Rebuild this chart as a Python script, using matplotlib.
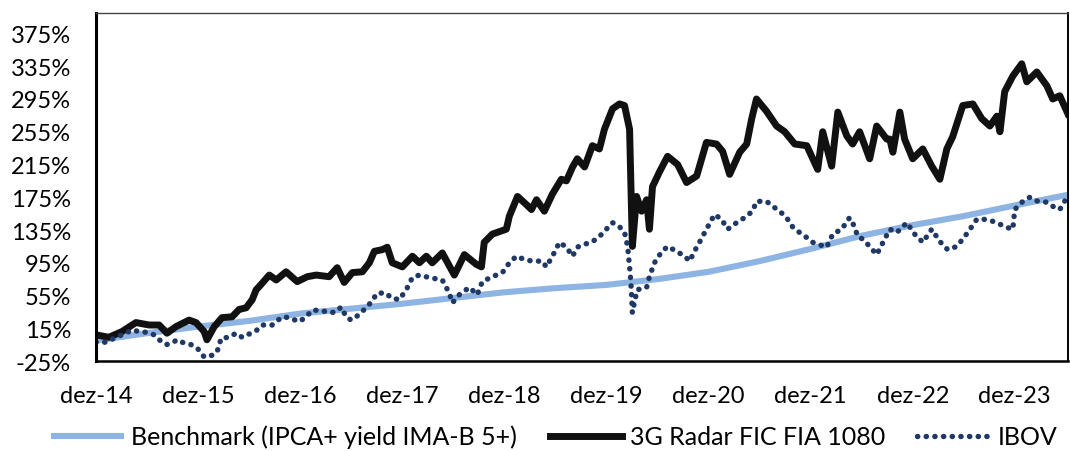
import pandas as pd
import matplotlib
matplotlib.use('Agg')
import matplotlib.pyplot as plt

plt.rcParams['font.family'] = ['Lato', 'DejaVu Sans']

# Benchmark (IPCA+ yield IMA-B 5+)
bench_dates = ['2014-12-01', '2015-06-01', '2015-12-01', '2016-06-01', '2016-12-01',
               '2017-06-01', '2017-12-01', '2018-06-01', '2018-12-01', '2019-06-01',
               '2019-12-01', '2020-06-01', '2020-12-01', '2021-06-01', '2021-12-01',
               '2022-06-01', '2022-12-01', '2023-06-01', '2023-12-01', '2024-06-08']
bench_vals = [0, 9, 17, 24, 33, 39, 45, 52, 59, 64,
              68, 75, 84, 97, 112, 128, 141, 152, 165, 178]

# 3G Radar FIC FIA 1080
fund_dates = ['2014-12-01', '2015-01-16', '2015-03-04', '2015-04-23', '2015-06-09',
              '2015-07-15', '2015-08-12', '2015-09-13', '2015-10-30', '2015-11-24',
              '2015-12-23', '2016-01-02', '2016-01-28', '2016-02-25', '2016-04-01',
              '2016-04-26', '2016-05-21', '2016-06-12', '2016-06-26', '2016-07-07',
              '2016-08-12', '2016-09-06', '2016-10-11', '2016-11-20', '2016-12-26',
              '2017-01-27', '2017-03-14', '2017-04-12', '2017-05-07', '2017-06-05',
              '2017-07-11', '2017-08-05', '2017-08-23', '2017-09-20', '2017-10-08',
              '2017-10-26', '2017-12-01', '2018-01-06', '2018-01-31', '2018-02-25',
              '2018-03-18', '2018-04-23', '2018-06-05', '2018-07-11', '2018-08-23',
              '2018-09-10', '2018-09-20', '2018-10-19', '2018-12-08', '2018-12-19',
              '2019-01-17', '2019-02-18', '2019-03-08', '2019-03-26', '2019-04-23',
              '2019-05-22', '2019-06-23', '2019-07-11', '2019-08-02', '2019-08-19',
              '2019-09-14', '2019-10-12', '2019-11-06', '2019-11-24', '2019-12-23',
              '2020-01-17', '2020-02-04', '2020-02-22', '2020-02-29', '2020-03-03',
              '2020-03-18', '2020-04-05', '2020-04-23', '2020-05-03', '2020-05-14',
              '2020-06-08', '2020-07-07', '2020-08-12', '2020-09-13', '2020-10-19',
              '2020-11-23', '2020-12-29', '2021-01-20', '2021-02-14', '2021-03-22',
              '2021-04-16', '2021-05-04', '2021-05-21', '2021-06-26', '2021-08-01',
              '2021-08-30', '2021-10-05', '2021-11-17', '2021-12-26', '2022-01-13',
              '2022-02-14', '2022-03-08', '2022-04-09', '2022-04-30', '2022-05-25',
              '2022-06-30', '2022-07-25', '2022-08-30', '2022-09-10', '2022-09-21',
              '2022-10-16', '2022-11-02', '2022-12-01', '2023-01-06', '2023-02-07',
              '2023-03-08', '2023-04-02', '2023-04-23', '2023-05-29', '2023-07-04',
              '2023-08-05', '2023-09-03', '2023-09-28', '2023-10-09', '2023-10-26',
              '2023-11-24', '2023-12-26', '2024-01-13', '2024-02-18', '2024-03-25',
              '2024-04-15', '2024-05-10', '2024-06-08']
fund_vals = [7, 4, 11, 22, 19, 19, 9, 17, 25, 22,
             11, 1, 17, 28, 29, 38, 40, 50, 62, 66,
             80, 74, 84, 72, 78, 80, 78, 89, 71, 83,
             84, 95, 109, 111, 114, 95, 90, 103, 95, 103,
             95, 107, 80, 105, 93, 90, 120, 130, 136, 152,
             176, 166, 160, 172, 158, 179, 197, 195, 212, 222,
             212, 238, 234, 258, 283, 289, 287, 258, 157, 115,
             176, 158, 172, 136, 188, 206, 225, 215, 193, 201,
             242, 240, 231, 203, 230, 240, 271, 295, 280, 262,
             255, 240, 238, 209, 255, 213, 279, 250, 240, 255,
             222, 262, 246, 246, 230,
             279, 246, 222, 234, 213,
             197, 234, 249, 287, 289, 271, 262, 274, 255, 304,
             323, 338, 316, 328, 311, 295, 299, 277]

# IBOV
ibov_dates = ['2014-12-01', '2015-01-06', '2015-02-11', '2015-03-18', '2015-04-09',
              '2015-05-04', '2015-06-02', '2015-06-27', '2015-07-15', '2015-08-09',
              '2015-08-30', '2015-09-17', '2015-10-12', '2015-11-06', '2015-11-28',
              '2015-12-23', '2016-01-20', '2016-02-07', '2016-02-22', '2016-03-21',
              '2016-04-15', '2016-05-07', '2016-06-01', '2016-06-26', '2016-07-17',
              '2016-08-22', '2016-09-27', '2016-10-22', '2016-11-27', '2016-12-22',
              '2017-01-12', '2017-02-14', '2017-03-14', '2017-04-08', '2017-04-26',
              '2017-05-14', '2017-06-01', '2017-06-19', '2017-07-18', '2017-08-12',
              '2017-09-02', '2017-10-04', '2017-10-22', '2017-11-20', '2017-12-15',
              '2018-01-06', '2018-01-31', '2018-03-07', '2018-04-23', '2018-05-18',
              '2018-05-29', '2018-06-23', '2018-07-29', '2018-08-26', '2018-09-13',
              '2018-10-19', '2018-11-24', '2018-12-19', '2019-01-13', '2019-02-11',
              '2019-03-11', '2019-04-16', '2019-04-30', '2019-05-22', '2019-06-16',
              '2019-07-11', '2019-08-02', '2019-08-19', '2019-09-06', '2019-10-09',
              '2019-11-06', '2019-12-01', '2019-12-23', '2020-01-17', '2020-02-04',
              '2020-02-15', '2020-02-22', '2020-02-26', '2020-02-29', '2020-03-03',
              '2020-03-10', '2020-03-20', '2020-04-23', '2020-05-03', '2020-05-21',
              '2020-06-15', '2020-07-07', '2020-08-08', '2020-09-06', '2020-09-24',
              '2020-10-11', '2020-10-29', '2020-11-23', '2020-12-22', '2021-01-16',
              '2021-02-07', '2021-03-11', '2021-04-08', '2021-05-07', '2021-05-21',
              '2021-06-26', '2021-07-18', '2021-08-12', '2021-09-06', '2021-09-27',
              '2021-10-22', '2021-11-16', '2021-12-08', '2022-01-02', '2022-01-27',
              '2022-02-18', '2022-03-22', '2022-04-19', '2022-05-07', '2022-05-18',
              '2022-06-05', '2022-06-30', '2022-07-25', '2022-08-23', '2022-09-10',
              '2022-10-05', '2022-11-10', '2022-12-08', '2023-01-06', '2023-02-07',
              '2023-03-08', '2023-04-05', '2023-05-08', '2023-06-05', '2023-06-30',
              '2023-07-18', '2023-08-23', '2023-09-28', '2023-10-26', '2023-11-24',
              '2023-12-01', '2023-12-30', '2024-01-24', '2024-02-22', '2024-03-25',
              '2024-04-15', '2024-05-10', '2024-06-05']
ibov_vals = [-2, -2, 4, 9, 13, 11, 10, 7, 1, -5,
             -3, 1, -3, -5, -9, -20, -18, -14, 3, 4,
             9, 4, 8, 12, 19, 19, 29, 28, 23, 29,
             37, 37, 34, 35, 41, 29, 25, 29, 38, 47,
             58, 58, 52, 50, 62, 77, 80, 77, 74, 58,
             46, 56, 65, 56, 72, 78, 83, 95, 103, 99,
             97, 97, 90, 103, 120, 114, 103, 114, 117, 120,
             127, 136, 144, 139, 132, 115, 90, 74, 58, 34,
             46, 62, 65, 78, 95, 108, 115, 109, 103, 97,
             109, 120, 136, 154, 148, 136, 144, 150, 158, 170,
             170, 164, 158, 150, 139, 132, 126, 120, 117, 114,
             130, 136, 150, 139, 127, 124, 115, 105, 124, 136,
             132, 144, 130, 120, 136, 121, 111, 115, 127, 139,
             148, 148, 144, 139, 136, 160, 170, 175, 170, 169,
             164, 160, 175]

tick_years = list(range(2014, 2024))
y_ticks = list(range(-25, 376, 40))

fig = plt.figure(figsize=(10.7, 4.52), dpi=100)
ax = fig.add_axes([0.0897, 0.199, 0.9083, 0.770])

ax.plot(pd.to_datetime(bench_dates), bench_vals, color='#8DB4E2', lw=4.4,
        solid_capstyle='butt', label='Benchmark (IPCA+ yield IMA-B 5+)')
ax.plot(pd.to_datetime(fund_dates), fund_vals, color='#111111', lw=5.0,
        solid_joinstyle='round', label='3G Radar FIC FIA 1080')
ax.plot(pd.to_datetime(ibov_dates), ibov_vals, color='#1F3864', lw=3.9,
        linestyle=(0, (0.05, 1.55)), dash_capstyle='round', label='IBOV')

ax.set_xlim(pd.Timestamp('2014-12-01'), pd.Timestamp('2024-06-08'))
ax.set_ylim(-25, 400)
ax.set_yticks(y_ticks)
ax.set_yticklabels([f'{v}%' for v in y_ticks])
ax.set_xticks([pd.Timestamp(f'{y}-12-01') for y in tick_years])
ax.set_xticklabels([f'dez-{y % 100:02d}' for y in tick_years])
ax.tick_params(axis='both', length=0, labelsize=17, colors='#000000')
ax.tick_params(axis='x', pad=17)
ax.tick_params(axis='y', pad=18)

ax.spines['left'].set_linewidth(2.2)
ax.spines['bottom'].set_linewidth(1.8)
ax.spines['right'].set_linewidth(1.4)
ax.spines['top'].set_linewidth(1.0)
ax.spines['top'].set_color('#444444')

fig.legend(loc='center', bbox_to_anchor=(0.518, 0.032), ncol=3, frameon=False,
           fontsize=18, handlelength=2.9, columnspacing=1.3, handletextpad=0.3)

fig.savefig('out.png', dpi=100)
